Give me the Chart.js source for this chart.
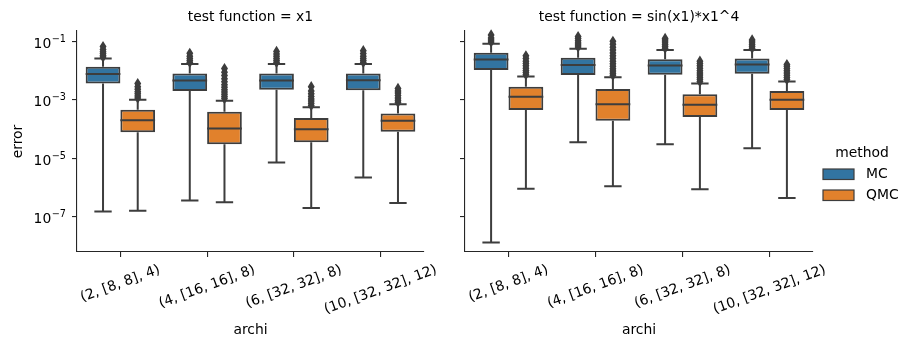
<!DOCTYPE html>
<html>
<head>
<meta charset="utf-8">
<script src="https://cdn.jsdelivr.net/npm/chart.js@4.4.0/dist/chart.umd.min.js"></script>
<style>
    html, body { margin: 0; padding: 0; background: #fff; }
    #wrap { position: relative; width: 914px; height: 351px; }
    .panel { position: absolute; top: 0; height: 351px; }
    #left { left: 0; width: 440px; }
    #right { left: 440px; width: 474px; }
</style>
</head>
<body>
<div id="wrap">
    <div class="panel" id="left"><canvas id="chartX1"></canvas></div>
    <div class="panel" id="right"><canvas id="chartSin"></canvas></div>
</div>
<script>
const archi = ['(2, [8, 8], 4)', '(4, [16, 16], 8)', '(6, [32, 32], 8)', '(10, [32, 32], 12)'];
const methods = ['MC', 'QMC'];
const yTicks = [1e-7, 1e-5, 1e-3, 1e-1];
const yTickExponents = ['−7', '−5', '−3', '−1'];

// one entry per archi: [lower whisker, Q1, median, Q3, upper whisker]
const x1MC = [
    [1.5e-7, 3.6e-3, 7.6e-3, 1.35e-2, 2.6e-2],
    [3.6e-7, 2.0e-3, 4.6e-3, 7.9e-3, 1.66e-2],
    [7.1e-6, 2.2e-3, 4.6e-3, 7.9e-3, 1.66e-2],
    [2.2e-6, 2.1e-3, 4.7e-3, 7.9e-3, 1.66e-2]
];
const x1QMC = [
    [1.6e-7, 7.8e-5, 2.0e-4, 4.6e-4, 1.0e-3],
    [3.1e-7, 3.0e-5, 1.05e-4, 3.9e-4, 9.3e-4],
    [2.0e-7, 3.5e-5, 9.8e-5, 2.4e-4, 5.5e-4],
    [2.95e-7, 8.1e-5, 1.9e-4, 3.4e-4, 7.1e-4]
];
const sinMC = [
    [1.3e-8, 1.05e-2, 2.4e-2, 4.1e-2, 8.3e-2],
    [3.5e-5, 7.1e-3, 1.55e-2, 2.75e-2, 5.6e-2],
    [3.0e-5, 7.2e-3, 1.5e-2, 2.45e-2, 5.0e-2],
    [2.2e-5, 7.8e-3, 1.6e-2, 2.6e-2, 5.0e-2]
];
const sinQMC = [
    [9.1e-7, 4.5e-4, 1.26e-3, 2.8e-3, 6.2e-3],
    [1.1e-6, 1.9e-4, 7.1e-4, 2.35e-3, 5.9e-3],
    [8.7e-7, 2.6e-4, 6.8e-4, 1.55e-3, 3.6e-3],
    [4.4e-7, 4.5e-4, 1.0e-3, 2.0e-3, 4.2e-3]
];

// outliers above the upper whisker
const x1MCFliers = [
    [2.9e-2, 3.3e-2, 3.8e-2, 4.4e-2, 5.2e-2, 6.6e-2],
    [1.9e-2, 2.2e-2, 2.6e-2, 3.1e-2, 3.9e-2],
    [1.9e-2, 2.2e-2, 2.6e-2, 3.1e-2, 3.7e-2, 4.5e-2],
    [1.9e-2, 2.2e-2, 2.6e-2, 3.1e-2, 3.8e-2, 4.8e-2]
];
const x1QMCFliers = [
    [1.15e-3, 1.35e-3, 1.6e-3, 1.9e-3, 2.3e-3, 2.8e-3, 3.6e-3],
    [1.1e-3, 1.3e-3, 1.55e-3, 1.85e-3, 2.2e-3, 2.7e-3, 3.3e-3, 4.1e-3, 5.2e-3, 6.8e-3, 8.8e-3, 1.17e-2],
    [6.4e-4, 7.6e-4, 9.0e-4, 1.07e-3, 1.3e-3, 1.6e-3, 2.0e-3, 2.8e-3],
    [8.2e-4, 9.7e-4, 1.15e-3, 1.4e-3, 1.7e-3, 2.0e-3, 2.45e-3]
];
const sinMCFliers = [
    [9.5e-2, 1.1e-1, 1.3e-1, 1.66e-1],
    [6.4e-2, 7.5e-2, 8.8e-2, 1.05e-1, 1.25e-1, 1.45e-1],
    [5.8e-2, 6.8e-2, 8.0e-2, 9.4e-2, 1.1e-1, 1.26e-1],
    [5.8e-2, 6.8e-2, 8.0e-2, 9.4e-2, 1.12e-1]
];
const sinQMCFliers = [
    [7.2e-3, 8.5e-3, 1.0e-2, 1.2e-2, 1.45e-2, 1.75e-2, 2.1e-2, 2.6e-2, 3.2e-2],
    [6.9e-3, 8.1e-3, 9.6e-3, 1.15e-2, 1.4e-2, 1.7e-2, 2.1e-2, 2.6e-2, 3.2e-2, 4.0e-2, 5.0e-2, 6.3e-2, 8.0e-2, 1.0e-1],
    [4.2e-3, 5.0e-3, 5.9e-3, 7.0e-3, 8.3e-3, 9.9e-3, 1.2e-2, 1.45e-2, 1.75e-2, 2.1e-2],
    [4.9e-3, 5.8e-3, 6.9e-3, 8.2e-3, 9.8e-3, 1.17e-2, 1.4e-2, 1.6e-2]
];

const FONT = { family: 'DejaVu Sans', size: 13.9 };
const TEXT = '#000';
const GRAY = '#3d3d3d';
const AXIS = '#262626';
const COLORS = ['#3274a1', '#e1812c'];

const boxPlotPlugin = {
    id: 'boxPlot',
    afterDatasetsDraw(chart) {
        const { ctx } = chart;
        const y = chart.scales.y;
        ctx.save();
        ctx.strokeStyle = GRAY;
        ctx.fillStyle = GRAY;
        chart.data.datasets.forEach((ds, di) => {
            chart.getDatasetMeta(di).data.forEach((bar, i) => {
                const [lo, q1, med, q3, hi] = ds.stats[i];
                const x = bar.x;
                const half = bar.width / 2;
                ctx.lineWidth = 2;
                ctx.beginPath();
                ctx.moveTo(x, y.getPixelForValue(q3));
                ctx.lineTo(x, y.getPixelForValue(hi));
                ctx.moveTo(x, y.getPixelForValue(q1));
                ctx.lineTo(x, y.getPixelForValue(lo));
                ctx.moveTo(x - half / 2, y.getPixelForValue(hi));
                ctx.lineTo(x + half / 2, y.getPixelForValue(hi));
                ctx.moveTo(x - half / 2, y.getPixelForValue(lo));
                ctx.lineTo(x + half / 2, y.getPixelForValue(lo));
                ctx.moveTo(x - half, y.getPixelForValue(med));
                ctx.lineTo(x + half, y.getPixelForValue(med));
                ctx.stroke();
                ctx.lineWidth = 1.5;
                ds.fliers[i].forEach(v => {
                    const py = y.getPixelForValue(v);
                    ctx.beginPath();
                    ctx.moveTo(x, py - 4.2);
                    ctx.lineTo(x + 2.6, py);
                    ctx.lineTo(x, py + 4.2);
                    ctx.lineTo(x - 2.6, py);
                    ctx.closePath();
                    ctx.fill();
                    ctx.stroke();
                });
            });
        });
        ctx.restore();
    }
};

const labelsPlugin = {
    id: 'panelLabels',
    afterDraw(chart, args, opts) {
        const { ctx, chartArea } = chart;
        const xScale = chart.scales.x;
        const yScale = chart.scales.y;
        ctx.save();
        ctx.fillStyle = TEXT;
        ctx.font = `${FONT.size}px ${FONT.family}`;
        // panel title
        ctx.textAlign = 'center';
        ctx.textBaseline = 'middle';
        ctx.fillText(opts.title, (chartArea.left + chartArea.right) / 2, 17);
        // rotated x tick labels, centred under each tick like matplotlib
        const angle = 20 * Math.PI / 180;
        const lineH = FONT.size * 1.16;
        archi.forEach((label, i) => {
            const w = ctx.measureText(label).width;
            const boxH = w * Math.sin(angle) + lineH * Math.cos(angle);
            const cx = xScale.getPixelForTick(i);
            const cy = chartArea.bottom + 10 + boxH / 2;
            ctx.save();
            ctx.translate(cx, cy);
            ctx.rotate(-angle);
            ctx.fillText(label, 0, 0);
            ctx.restore();
        });
        // y tick labels as 10 with a raised exponent
        if (opts.showY) {
            ctx.textAlign = 'right';
            ctx.textBaseline = 'alphabetic';
            yTicks.forEach((v, i) => {
                const py = yScale.getPixelForValue(v);
                const right = chartArea.left - 11;
                ctx.font = `9.7px ${FONT.family}`;
                ctx.fillText(yTickExponents[i], right, py + 0.5);
                const ew = ctx.measureText(yTickExponents[i]).width;
                ctx.font = `${FONT.size}px ${FONT.family}`;
                ctx.fillText('10', right - ew - 0.5, py + 6.3);
            });
            ctx.font = `${FONT.size}px ${FONT.family}`;
        }
        // legend
        if (opts.legend) {
            const lx = opts.legend.x, ly = opts.legend.y;
            ctx.textAlign = 'center';
            ctx.textBaseline = 'middle';
            ctx.fillText('method', lx + 39, ly);
            ctx.textAlign = 'left';
            methods.forEach((m, i) => {
                const py = ly + 16 + i * 21;
                ctx.fillStyle = COLORS[i];
                ctx.fillRect(lx, py, 31, 10.5);
                ctx.strokeStyle = GRAY;
                ctx.lineWidth = 1.2;
                ctx.strokeRect(lx, py, 31, 10.5);
                ctx.fillStyle = TEXT;
                ctx.fillText(m, lx + 43, py + 5.5);
            });
        }
        ctx.restore();
    }
};

function makePanel(canvasId, title, mcStats, qmcStats, mcFliers, qmcFliers, layout) {
    const statSets = [mcStats, qmcStats];
    const flierSets = [mcFliers, qmcFliers];
    return new Chart(document.getElementById(canvasId).getContext('2d'), {
        type: 'bar',
        data: {
            labels: archi,
            datasets: methods.map((m, i) => ({
                label: m,
                data: statSets[i].map(s => [s[1], s[3]]),
                stats: statSets[i],
                fliers: flierSets[i],
                backgroundColor: COLORS[i],
                borderColor: GRAY,
                borderWidth: 2,
                borderSkipped: false,
                categoryPercentage: 0.8,
                barPercentage: 1.0
            }))
        },
        options: {
            responsive: true,
            maintainAspectRatio: false,
            animation: false,
            layout: { padding: { left: 0, right: layout.padRight, top: 31, bottom: 0 } },
            plugins: {
                legend: { display: false },
                tooltip: { enabled: false },
                title: { display: false },
                panelLabels: { title: title, legend: layout.legend, showY: layout.showY }
            },
            scales: {
                x: {
                    type: 'category',
                    offset: true,
                    afterFit: s => { s.height = 99; },
                    ticks: { display: false },
                    grid: { display: true, drawOnChartArea: false, drawTicks: true, tickLength: 5, offset: false, color: AXIS, lineWidth: 1.1 },
                    border: { display: true, color: AXIS, width: 1.1 },
                    title: { display: true, text: 'archi', color: TEXT, font: FONT, padding: { top: 0, bottom: 12 } }
                },
                y: {
                    type: 'logarithmic',
                    min: 6.2e-9,
                    max: 0.2255,
                    afterBuildTicks: s => { s.ticks = yTicks.map(v => ({ value: v })); },
                    afterFit: s => { s.width = layout.yWidth; },
                    ticks: { display: false },
                    grid: { display: true, drawOnChartArea: false, drawTicks: true, tickLength: 5, color: AXIS, lineWidth: 1.1 },
                    border: { display: true, color: AXIS, width: 1.1 },
                    title: { display: layout.showY, text: 'error', color: TEXT, font: FONT, padding: { top: 10, bottom: 0 } }
                }
            }
        },
        plugins: [boxPlotPlugin, labelsPlugin]
    });
}

makePanel('chartX1', 'test function = x1', x1MC, x1QMC, x1MCFliers, x1QMCFliers,
    { padRight: 16, yWidth: 77, showY: true, legend: null });
makePanel('chartSin', 'test function = sin(x1)*x1^4', sinMC, sinQMC, sinMCFliers, sinQMCFliers,
    { padRight: 101, yWidth: 25, showY: false, legend: { x: 383, y: 153 } });
</script>
</body>
</html>
